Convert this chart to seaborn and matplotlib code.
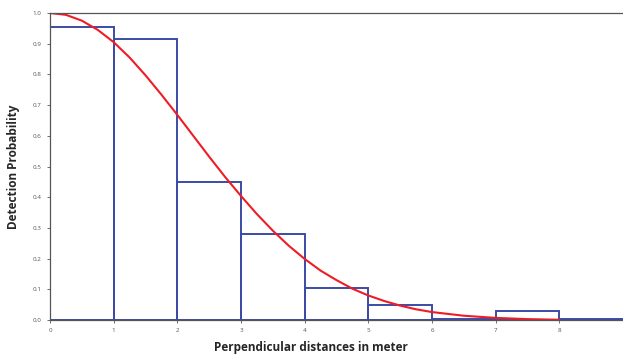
import matplotlib
matplotlib.use('Agg')

import matplotlib.pyplot as plt
import seaborn as sns
import numpy as np

# histogram of detection proportions per 1 m distance class
bin_edges = [0, 1, 2, 3, 4, 5, 6, 7, 8, 9]
bin_heights = [0.953, 0.915, 0.45, 0.28, 0.105, 0.05, 0.005, 0.03, 0.002]

# fitted detection curve
curve_x = [0, 0.25, 0.5, 0.75, 1.0, 1.25, 1.5, 1.75, 2.0, 2.25, 2.5, 2.75,
           3.0, 3.25, 3.5, 3.75, 4.0, 4.25, 4.5, 4.75, 5.0, 5.25, 5.5, 5.75,
           6.0, 6.5, 7.0, 7.5, 8.0]
curve_y = [1.0, 0.994, 0.975, 0.945, 0.905, 0.855, 0.797, 0.734, 0.668,
           0.600, 0.532, 0.466, 0.404, 0.345, 0.291, 0.242, 0.199, 0.161,
           0.130, 0.102, 0.080, 0.062, 0.047, 0.035, 0.026, 0.014, 0.007,
           0.003, 0.001]

sns.set_style("white")
plt.rcParams['font.family'] = ['Open Sans', 'DejaVu Sans']

fig = plt.figure(figsize=(6.23, 3.56), dpi=100)
ax = fig.add_axes([0.0803, 0.101, 0.9197, 0.8625])

centers = [(a + b) / 2 for a, b in zip(bin_edges[:-1], bin_edges[1:])]
sns.histplot(x=centers, weights=bin_heights, bins=bin_edges, fill=False,
             element="bars", color="#3b4ba6", linewidth=1.4, ax=ax)
sns.lineplot(x=curve_x, y=curve_y, color="#ee1c25", linewidth=1.5, ax=ax)

ax.set_xlim(0, 9)
ax.set_ylim(0, 1.0)
ax.set_xticks(range(0, 9))
ax.set_yticks(np.arange(0, 1.01, 0.1))
ax.set_yticklabels(["%.1f" % v for v in np.arange(0, 1.01, 0.1)])
ax.tick_params(axis='both', labelsize=4.5, colors="#555555", length=2.5,
               width=0.6, direction='out', left=True, bottom=True)

for side in ['left', 'bottom', 'top']:
    ax.spines[side].set_color("#555555")
    ax.spines[side].set_linewidth(0.9)
ax.spines['right'].set_visible(False)

ax.set_xlabel("Perpendicular distances in meter", fontsize=8.5,
              fontweight='bold')
ax.xaxis.set_label_coords(0.455, -0.068)
ax.set_ylabel("Detection Probability", fontsize=8.5, fontweight='bold',
              labelpad=9)

fig.savefig("out.png", dpi=100)
